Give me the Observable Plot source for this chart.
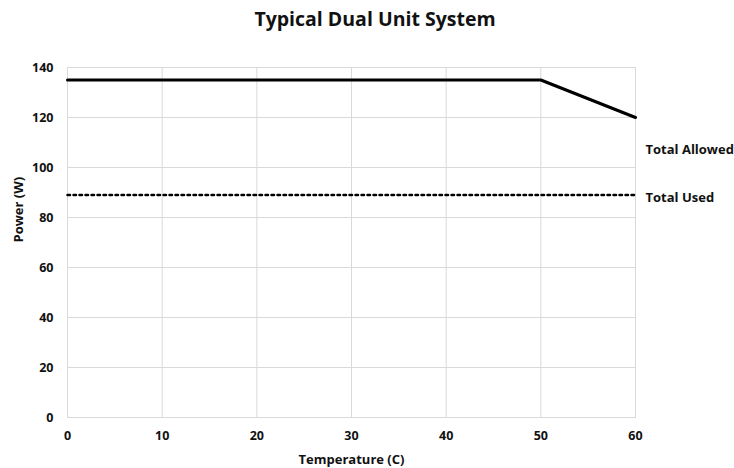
<!DOCTYPE html>
<html>
<head>
<meta charset="utf-8">
<script src="https://cdn.jsdelivr.net/npm/d3@7"></script>
<script src="https://cdn.jsdelivr.net/npm/@observablehq/plot@0.6"></script>
<style>
  html, body { margin: 0; padding: 0; background: #fff; }
  #wrap { width: 734px; height: 468px; font-family: "Open Sans", "Noto Sans", sans-serif; }
  #title { height: 40px; line-height: 38px; text-align: center; font-size: 19.5px; font-weight: 700; color: #111; padding-left: 16px; box-sizing: border-box; }
</style>
</head>
<body>
<div id="wrap">
  <div id="title">Typical Dual Unit System</div>
  <div id="chart"></div>
</div>
<script>
const temperature = [0, 10, 20, 30, 40, 50, 60];
const totalAllowed = [135, 135, 135, 135, 135, 135, 120];
const totalUsed = [89, 89, 89, 89, 89, 89, 89];
const xTicks = [0, 10, 20, 30, 40, 50, 60];
const yTicks = [0, 20, 40, 60, 80, 100, 120, 140];
const seriesNames = ["Total Allowed", "Total Used"];

const allowed = temperature.map((t, i) => ({t, v: totalAllowed[i]}));
const used = temperature.map((t, i) => ({t, v: totalUsed[i]}));
const lastAllowed = [allowed[allowed.length - 1]];
const lastUsed = [used[used.length - 1]];

const font = "'Open Sans', 'Noto Sans', sans-serif";

const chart = Plot.plot({
  width: 734,
  height: 428,
  marginTop: 27,
  marginBottom: 51,
  marginLeft: 67,
  marginRight: 99,
  style: {fontFamily: font, fontSize: "12.5px", fontWeight: 700, color: "#111", background: "#fff"},
  x: {domain: [0, 60], ticks: xTicks, label: null},
  y: {domain: [0, 140], ticks: yTicks, label: null},
  marks: [
    Plot.gridX(xTicks, {stroke: "#d9d9d9", strokeOpacity: 1, strokeWidth: 1}),
    Plot.gridY(yTicks, {stroke: "#d9d9d9", strokeOpacity: 1, strokeWidth: 1}),
    Plot.frame({stroke: "#d9d9d9", strokeWidth: 1}),
    Plot.axisX(xTicks, {tickSize: 0, tickPadding: 14, fontSize: 12.5, fontWeight: 700, label: null}),
    Plot.axisY(yTicks, {tickSize: 0, tickPadding: 14, fontSize: 12.5, fontWeight: 700, label: null}),
    Plot.text(["Temperature (C)"], {frameAnchor: "bottom", dy: 46, fontSize: 13, fontWeight: 700, fill: "#111"}),
    Plot.text(["Power (W)"], {frameAnchor: "left", dx: -49, rotate: -90, fontSize: 13, fontWeight: 700, fill: "#111"}),
    Plot.line(allowed, {x: "t", y: "v", stroke: "#000", strokeWidth: 3}),
    Plot.line(used, {x: "t", y: "v", stroke: "#000", strokeWidth: 2.5, strokeDasharray: "2.5,3.5"}),
    Plot.text(lastAllowed, {x: "t", y: "v", text: () => seriesNames[0], textAnchor: "start", dx: 10, dy: 32, fontSize: 13, fontWeight: 700, fill: "#111"}),
    Plot.text(lastUsed, {x: "t", y: "v", text: () => seriesNames[1], textAnchor: "start", dx: 10, dy: 3, fontSize: 13, fontWeight: 700, fill: "#111"})
  ]
});
document.getElementById("chart").appendChild(chart);
</script>
</body>
</html>
